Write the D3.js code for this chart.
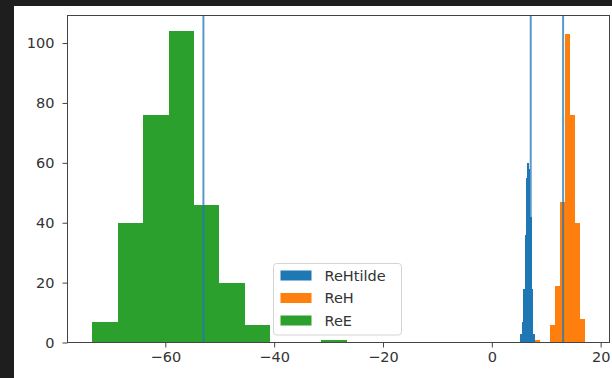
<!DOCTYPE html>
<html>
<head>
<meta charset="utf-8">
<script src="https://d3js.org/d3.v7.min.js"></script>
<title> Histograms ReHtilde / ReH / ReE </title>
<style>
	body { margin:0; background-color:#1e1e1e; }
	svg  { display:block; }
	.axis text { font-family: "DejaVu Sans", sans-serif; font-size:14.5px; fill:#333; }
	.axis path, .axis line { stroke:#444; }
	.leg text { font-family: "DejaVu Sans", sans-serif; font-size:14.5px; fill:#333; }
</style>
</head>
<body>
<div id="chart"></div>

<script>
// series names, in drawing order
var seriesNames = ["ReHtilde", "ReH", "ReE"];
var seriesColors = ["#1f77b4", "#ff7f0e", "#2ca02c"];

// bin edges (11 edges -> 10 bins)
var reHtildeEdges = [5.2, 5.47, 5.74, 6.01, 6.28, 6.55, 6.82, 7.09, 7.36, 7.63, 7.9];
var reHtildeCounts = [3, 7, 18, 36, 55, 60, 58, 42, 18, 3];

var reHEdges = [7.85, 8.775, 9.70, 10.625, 11.55, 12.475, 13.40, 14.325, 15.25, 16.175, 17.1];
var reHCounts = [1, 0, 0, 6, 19, 47, 103, 76, 40, 8];

var reEEdges = [-73.45, -68.77, -64.09, -59.41, -54.73, -50.05, -45.37, -40.69, -36.01, -31.33, -26.65];
var reECounts = [7, 40, 76, 104, 46, 20, 6, 0, 0, 1];

// vertical reference lines
var vlines = [-53.0, 7.15, 13.1];

var xTicks = [-60, -40, -20, 0, 20];
var yTicks = [0, 20, 40, 60, 80, 100];

function chart()
	{
		var W = 612, H = 378;
		var left = 67.5, right = 609.5, top = 15.5, bottom = 342.5;

		var svg = d3.select("#chart").append("svg")
				.attr("width", W)
				.attr("height", H);

		// white output area inside the dark frame
		svg.append("rect")
			.attr("x", 14).attr("y", 6)
			.attr("width", W - 14).attr("height", H - 6)
			.attr("fill", "white");

		var hists = [
			{ name: seriesNames[0], color: seriesColors[0], edges: reHtildeEdges, counts: reHtildeCounts },
			{ name: seriesNames[1], color: seriesColors[1], edges: reHEdges, counts: reHCounts },
			{ name: seriesNames[2], color: seriesColors[2], edges: reEEdges, counts: reECounts }
		];

		// matplotlib style autoscale: 5% margin on x, 5% top margin on y
		var xmin = d3.min(hists, function(h) { return h.edges[0]; });
		var xmax = d3.max(hists, function(h) { return h.edges[h.edges.length - 1]; });
		var xpad = (xmax - xmin) * 0.05;
		var ymax = d3.max(hists, function(h) { return d3.max(h.counts); }) * 1.05;

		var x = d3.scaleLinear().domain([xmin - xpad, xmax + xpad]).range([left, right]);
		var y = d3.scaleLinear().domain([0, ymax]).range([bottom, top]);

		// bars
		hists.forEach(function(h) {
			var bins = h.counts.map(function(c, i) { return { x0: h.edges[i], x1: h.edges[i + 1], n: c }; });
			svg.append("g").selectAll("rect")
				.data(bins.filter(function(b) { return b.n > 0; }))
				.enter().append("rect")
				.attr("x", function(b) { return x(b.x0); })
				.attr("y", function(b) { return y(b.n); })
				.attr("width", function(b) { return x(b.x1) - x(b.x0); })
				.attr("height", function(b) { return y(0) - y(b.n); })
				.attr("fill", h.color)
				.attr("shape-rendering", "crispEdges");
		});

		// reference lines
		svg.append("g").selectAll("line")
			.data(vlines)
			.enter().append("line")
			.attr("x1", function(d) { return x(d); })
			.attr("x2", function(d) { return x(d); })
			.attr("y1", top)
			.attr("y2", bottom)
			.attr("stroke", "#1f77b4")
			.attr("stroke-opacity", 0.75)
			.attr("stroke-width", 2);

		// axes
		var xaxis = d3.axisBottom(x).tickValues(xTicks).tickSize(5).tickPadding(4).tickSizeOuter(0);
		var yaxis = d3.axisLeft(y).tickValues(yTicks).tickSize(5).tickPadding(8).tickSizeOuter(0);

		svg.append("g").attr("class", "axis")
			.attr("transform", "translate(0," + bottom + ")")
			.call(xaxis)
			.select(".domain").remove();
		svg.append("g").attr("class", "axis")
			.attr("transform", "translate(" + left + ",0)")
			.call(yaxis)
			.select(".domain").remove();

		// frame
		svg.append("rect")
			.attr("x", left).attr("y", top)
			.attr("width", right - left).attr("height", bottom - top)
			.attr("fill", "none")
			.attr("stroke", "#444")
			.attr("stroke-width", 1);

		// legend
		var leg = svg.append("g").attr("class", "leg").attr("transform", "translate(273.5,263.5)");
		leg.append("rect")
			.attr("width", 128).attr("height", 71.5)
			.attr("rx", 3)
			.attr("fill", "white").attr("fill-opacity", 0.8)
			.attr("stroke", "#d4d4d4");
		var items = leg.selectAll("g.item").data(hists).enter().append("g")
			.attr("class", "item")
			.attr("transform", function(d, i) { return "translate(7," + (12 + i * 22.5) + ")"; });
		items.append("rect")
			.attr("x", 0).attr("y", -5)
			.attr("width", 31).attr("height", 10)
			.attr("fill", function(d) { return d.color; });
		items.append("text")
			.attr("x", 44).attr("y", 0)
			.attr("dy", "0.36em")
			.text(function(d) { return d.name; });
	}

chart();
</script>
</body>
</html>
